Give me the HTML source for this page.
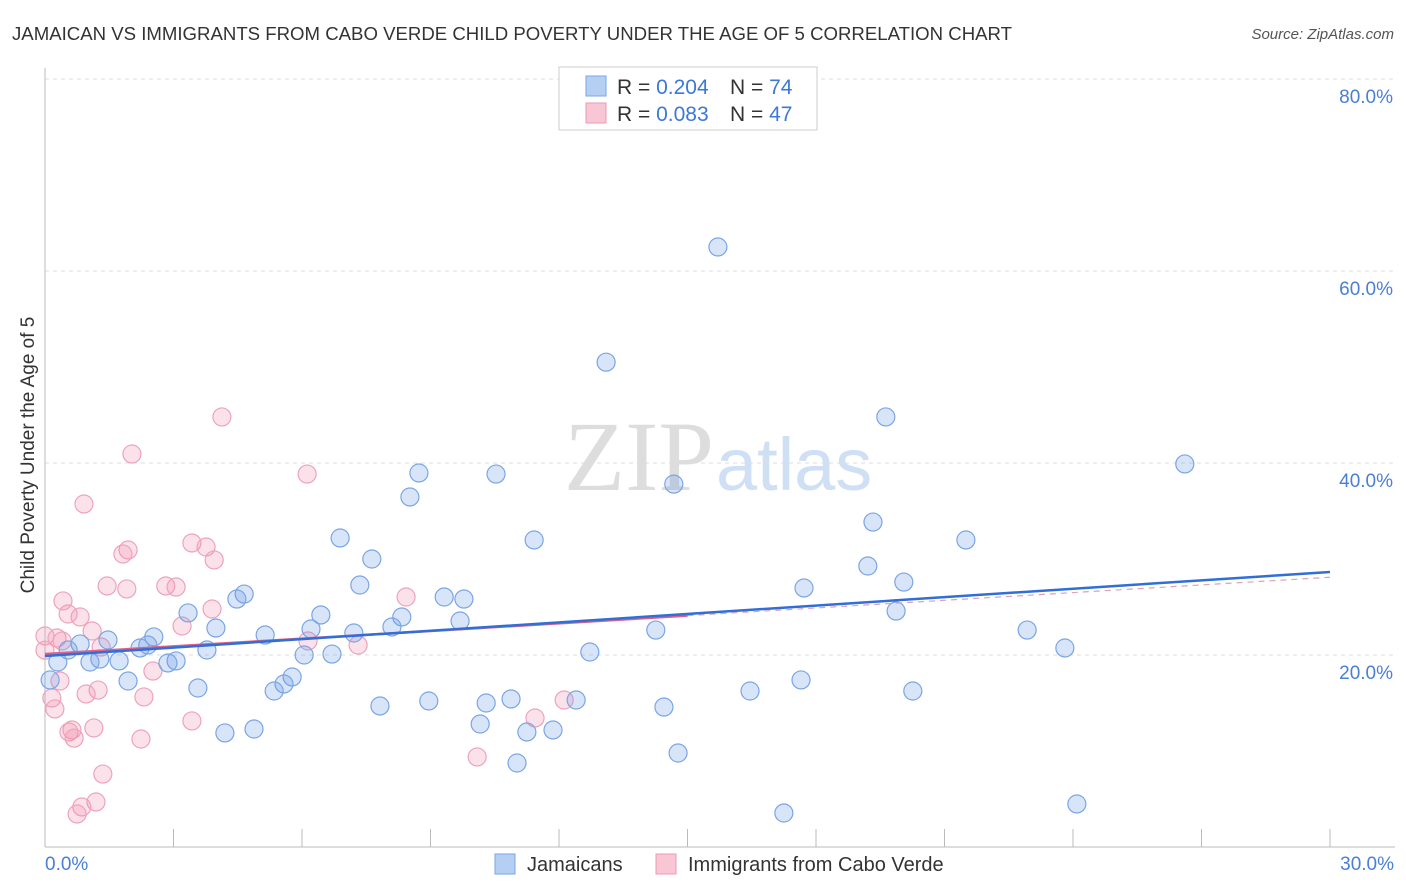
<!DOCTYPE html>
<html><head><meta charset="utf-8"><style>
body{margin:0;background:#fff;font-family:"Liberation Sans",sans-serif;}
</style></head><body>
<svg width="1406" height="892" style="display:block">
<text x="12" y="40" font-size="18" fill="#333" textLength="1000" lengthAdjust="spacingAndGlyphs">JAMAICAN VS IMMIGRANTS FROM CABO VERDE CHILD POVERTY UNDER THE AGE OF 5 CORRELATION CHART</text>
<text x="1394" y="39" font-size="15" fill="#555" font-style="italic" text-anchor="end">Source: ZipAtlas.com</text>
<g id="grid"></g>
<text x="714" y="490" font-size="100" fill="#ddd" text-anchor="end" font-family="Liberation Serif,serif">ZIP</text>
<text x="716" y="490" font-size="74" fill="#cfdff4">atlas</text>
<line x1="45" y1="68" x2="45" y2="847" stroke="#bbb"/>
<line x1="45" y1="847" x2="1395" y2="847" stroke="#bbb"/>
<g id="xticks"></g>
<text x="34" y="455" font-size="19" fill="#333" text-anchor="middle" transform="rotate(-90 34 455)">Child Poverty Under the Age of 5</text>
<text x="45" y="870" font-size="19" fill="#4a7fd6">0.0%</text>
<text x="1394" y="870" font-size="19" fill="#4a7fd6" text-anchor="end">30.0%</text>
<g id="pink"></g>
<g id="blue"></g>
<g id="trends"></g>
<g>
<rect x="559" y="67" width="258" height="63" fill="#fff" stroke="#ccc"/>
<rect x="586" y="76" width="20" height="20" fill="#b5cff3" stroke="#7aa5e5"/>
<rect x="586" y="103" width="20" height="20" fill="#f8c6d5" stroke="#eb9bb4"/>
<text x="617" y="94" font-size="21" fill="#333">R = <tspan fill="#3b78d8">0.204</tspan></text>
<text x="730" y="94" font-size="21" fill="#333">N = <tspan fill="#3b78d8">74</tspan></text>
<text x="617" y="121" font-size="21" fill="#333">R = <tspan fill="#3b78d8">0.083</tspan></text>
<text x="730" y="121" font-size="21" fill="#333">N = <tspan fill="#3b78d8">47</tspan></text>
</g>
<g>
<rect x="495" y="854" width="20" height="20" fill="#b5cff3" stroke="#7aa5e5"/>
<text x="527" y="871" font-size="20" fill="#333">Jamaicans</text>
<rect x="656" y="854" width="20" height="20" fill="#f8c6d5" stroke="#eb9bb4"/>
<text x="688" y="871" font-size="20" fill="#333">Immigrants from Cabo Verde</text>
</g>
</svg>
<script>
const yTicks=[20,40,60,80];
const xTicks=[0,3,6,9,12,15,18,21,24,27,30];
const blueX=[15.71,13.10,19.63,26.61,8.73,10.53,8.52,14.68,19.33,6.89,11.42,21.50,7.63,19.21,20.05,7.35,17.72,4.65,4.48,9.32,9.78,3.34,6.44,8.33,19.87,9.69,8.10,6.21,14.26,22.93,3.99,5.14,7.21,2.54,1.47,0.82,2.40,2.22,0.54,3.78,12.72,23.81,6.05,6.70,1.28,1.73,1.05,3.06,2.87,0.30,5.77,1.94,5.58,5.35,3.57,16.46,20.26,17.65,8.96,10.30,10.88,12.40,7.82,14.45,10.16,4.88,4.20,11.25,11.86,14.78,11.02,24.09,17.25,0.12];
const blueY=[62.5,50.5,44.8,39.9,38.96,38.85,36.46,37.8,33.85,32.19,31.98,31.98,30.0,29.27,27.6,27.29,26.98,26.35,25.83,26.04,25.83,24.38,24.17,23.96,24.58,23.54,22.92,22.71,22.6,22.6,22.81,22.08,22.29,21.88,21.56,21.15,21.04,20.73,20.52,20.52,20.31,20.73,20.0,20.1,19.58,19.38,19.27,19.38,19.17,19.27,17.71,17.29,16.98,16.25,16.56,16.25,16.25,17.4,15.21,15.0,15.42,15.31,14.69,14.58,12.81,12.29,11.88,11.98,12.19,9.79,8.75,4.48,3.54,17.4];
const pinkX=[4.13,2.03,0.91,6.12,3.43,3.76,1.94,1.82,3.95,1.45,1.91,2.82,3.06,8.43,3.90,0.82,0.54,0.42,1.10,3.20,0.0,0.28,0.40,1.31,6.14,7.31,2.52,0.35,1.24,0.96,2.31,0.16,0.23,12.12,11.44,3.43,1.14,0.63,0.56,0.68,2.24,10.09,1.35,1.19,0.86,0.75,0.0];
const pinkY=[44.8,40.94,35.73,38.85,31.67,31.25,30.94,30.52,29.9,27.19,26.88,27.19,27.08,26.04,24.79,23.96,24.27,25.63,22.5,23.02,21.98,21.77,21.46,20.83,21.46,21.04,18.33,17.29,16.35,15.94,15.63,15.52,14.38,15.31,13.44,13.13,12.4,12.19,11.98,11.35,11.25,9.38,7.6,4.69,4.17,3.44,20.5];
const blueTrend=[19.9,28.65];
const pinkTrend=[20.1,28.1];
const NS='http://www.w3.org/2000/svg';
const sx=v=>45+v/30*1285, sy=v=>847-v/20*192;
function mk(t,a,p){const e=document.createElementNS(NS,t);for(const k in a)e.setAttribute(k,a[k]);p.appendChild(e);return e;}
const grid=document.getElementById('grid');
yTicks.forEach(v=>{
  const l=mk('line',{x1:45,x2:1395,y1:sy(v),y2:sy(v),stroke:'#ddd','stroke-dasharray':'4,4'},grid);
  
  
  const t=mk('text',{x:1393,y:sy(v)+24,'font-size':19,fill:'#4a7fd6','text-anchor':'end'},grid);
  t.textContent=v.toFixed(1)+'%';
  
  
});
const xt=document.getElementById('xticks');
xTicks.forEach(v=>{
  const l=mk('line',{x1:sx(v),x2:sx(v),y1:829,y2:847,stroke:'#bbb'},xt);
  
  
});
function pts(id,X,Y,fill,stroke,name){
  const g=document.getElementById(id);
  X.forEach((x,i)=>{
    const c=mk('circle',{cx:sx(x),cy:sy(Y[i]),r:9,fill:fill,stroke:stroke,'stroke-width':1.2},g);
    
    
  });
}
pts('pink',pinkX,pinkY,'rgba(240,140,170,0.25)','#eea3ba','cabo-verde-point');
pts('blue',blueX,blueY,'rgba(100,150,230,0.25)','#7aa5e5','jamaican-point');
const tr=document.getElementById('trends');
const pm=pinkTrend[0]+(pinkTrend[1]-pinkTrend[0])*15/30;
const l1=mk('line',{x1:sx(0),y1:sy(pinkTrend[0]),x2:sx(15),y2:sy(pm),stroke:'#e0608a','stroke-width':2.5},tr);


const l2=mk('line',{x1:sx(15),y1:sy(pm),x2:sx(30),y2:sy(pinkTrend[1]),stroke:'#e0a0b5','stroke-width':1.2,'stroke-dasharray':'6,5'},tr);


const l3=mk('line',{x1:sx(0),y1:sy(blueTrend[0]),x2:sx(30),y2:sy(blueTrend[1]),stroke:'#2f6fd6','stroke-width':2.5},tr);


</script>
</body></html>
